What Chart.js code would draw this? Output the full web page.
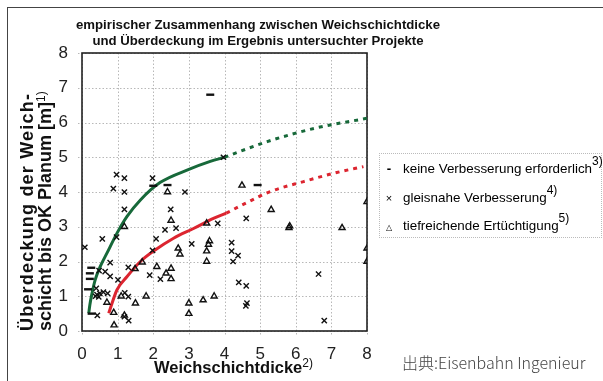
<!DOCTYPE html>
<html>
<head>
<meta charset="utf-8">
<script src="https://cdn.jsdelivr.net/npm/chart.js@4.4.1/dist/chart.umd.min.js"></script>
<style>
  body { margin: 0; background: #fff; }
  #wrap { position: relative; width: 603px; height: 381px; overflow: hidden;
    font-family: "Liberation Sans", Arial, sans-serif; color: #111; }
  #chart { position: absolute; left: 0; top: 0; }
  .frame { position: absolute; left: 7px; top: 7px; width: 620px; height: 400px;
    border-top: 1.5px solid #444; border-left: 1.5px solid #444; }
  .title { position: absolute; left: 58px; top: 17px; width: 400px; text-align: center;
    font-weight: bold; font-size: 13.2px; line-height: 16px; }
  .ytitle { position: absolute; left: 18px; top: 331px; width: 280px;
    transform-origin: 0 0; transform: rotate(-90deg);
    font-weight: bold; font-size: 18px; line-height: 18px; white-space: nowrap; }
  .xtitle { position: absolute; left: 154px; top: 358px; font-weight: bold;
    font-size: 16.5px; white-space: nowrap; }
  sup { font-weight: normal; font-size: 12px; line-height: 0; vertical-align: 6px; }
  .legend { position: absolute; left: 379px; top: 153px; width: 223px; height: 85px;
    box-sizing: border-box; border: 1px dotted #bbb; font-size: 13.4px; color: #000; }
  .legend .row { position: absolute; left: 0; height: 16px; line-height: 16px; white-space: nowrap; }
  .legend .row sup { vertical-align: 8px; }
  .legend .mk { display: inline-block; width: 14px; margin-left: 2px; margin-right: 7px; text-align: center; }
  .source { position: absolute; left: 402px; top: 354px; font-family: "Noto Sans CJK JP", sans-serif;
    font-size: 16px; line-height: 16px; color: #444; font-weight: 300; white-space: nowrap; }
</style>
</head>
<body>
<div id="wrap">
  <canvas id="chart" width="603" height="381"></canvas>
  <div class="frame"></div>
  <div class="title">empirischer Zusammenhang zwischen Weichschichtdicke<br>und Überdeckung im Ergebnis untersuchter Projekte</div>
  <div class="ytitle"><span style="letter-spacing:1.2px">Überdeckung der Weich-</span><br>schicht bis OK Planum [m]<sup>1)</sup></div>
  <div class="xtitle">Weichschichtdicke<sup>2)</sup></div>
  <div class="legend">
    <div class="row" style="top:7px"><span class="mk" style="font-weight:bold">-</span>keine Verbesserung erforderlich<sup>3)</sup></div>
    <div class="row" style="top:36px"><span class="mk" style="font-size:11px">×</span>gleisnahe Verbesserung<sup>4)</sup></div>
    <div class="row" style="top:64px"><span class="mk" style="font-size:8px">△</span>tiefreichende Ertüchtigung<sup>5)</sup></div>
  </div>
  <div class="source">出典:Eisenbahn Ingenieur</div>
</div>
<script>
// keine Verbesserung erforderlich (dash markers)
const dashX = [3.6, 4.93, 2.0, 2.4, 0.26, 0.22, 0.22, 0.17, 0.27];
const dashY = [6.8, 4.2, 4.18, 4.2, 1.82, 1.66, 1.5, 1.2, 0.5];

// gleisnahe Verbesserung (crosses)
const crossX = [0.97, 1.19, 0.88, 1.19, 1.98, 2.89, 3.97, 1.19, 2.49, 2.33, 2.64, 3.81, 4.61,
  0.57, 0.97, 0.08, 2.08, 1.98, 3.08, 4.2, 4.2, 4.38, 4.24, 0.79, 0.48, 0.65, 0.79, 1.01,
  1.3, 1.9, 2.2, 4.4, 4.61, 4.63, 4.6, 0.4, 0.42, 0.5, 0.6, 0.72, 1.2, 1.3, 0.43, 1.19,
  1.31, 6.64, 6.8, 0.38, 0.47];
const crossY = [4.5, 4.4, 4.1, 4.0, 4.4, 4.0, 5.0, 3.5, 3.5, 2.91, 2.96, 3.1, 3.24,
  2.65, 2.7, 2.41, 2.65, 2.32, 2.51, 2.54, 2.3, 2.17, 2.0, 1.97, 1.74, 1.71, 1.57, 1.47,
  1.83, 1.61, 1.49, 1.4, 1.3, 0.8, 0.72, 1.23, 1.05, 1.08, 1.12, 1.08, 1.1, 0.99, 0.45, 0.41,
  0.3, 1.64, 0.3, 1.0, 0.98];

// tiefreichende Ertüchtigung (triangles)
const triX = [2.4, 4.49, 5.31, 2.5, 1.19, 3.5, 5.81, 5.83, 7.3, 3.58, 3.55, 3.5, 3.5, 2.7,
  2.75, 2.1, 2.36, 2.5, 2.5, 1.49, 1.69, 1.8, 1.5, 3.0, 3.0, 3.4, 3.71, 0.89, 0.9, 0.7,
  1.19, 1.1, 8, 8, 8];
const triY = [4.0, 4.19, 3.49, 3.18, 3.0, 3.1, 2.97, 3.02, 2.97, 2.59, 2.49, 2.3, 2.0, 2.38,
  2.21, 1.85, 1.66, 1.8, 1.5, 1.79, 1.98, 1.0, 0.8, 0.8, 0.5, 0.89, 1.0, 0.53, 0.17, 0.82,
  0.45, 1.0, 3.72, 2.38, 2.0];

// trend curves
const greenX = [0.19, 0.22, 0.28, 0.37, 0.51, 0.70, 0.98, 1.26, 1.64, 2.19, 3.0, 3.6, 4.0];
const greenY = [0.51, 0.75, 1.08, 1.47, 1.85, 2.24, 2.81, 3.29, 3.77, 4.27, 4.65, 4.88, 5.0];
const greenExtX = [4.0, 5.2, 6.6, 8.0];
const greenExtY = [5.0, 5.45, 5.85, 6.12];
const redX = [0.75, 0.98, 1.26, 1.64, 2.01, 2.57, 3.13, 3.69, 4.05];
const redY = [0.51, 1.18, 1.56, 2.0, 2.3, 2.67, 2.95, 3.24, 3.39];
const redExtX = [4.05, 4.6, 5.28, 6.22, 7.15, 7.9];
const redExtY = [3.39, 3.68, 4.01, 4.3, 4.56, 4.73];

const xTicks = [0, 1, 2, 3, 4, 5, 6, 7, 8];
const yTicks = [0, 1, 2, 3, 4, 5, 6, 7, 8];

const pts = (xs, ys) => xs.map((x, i) => ({ x: x, y: ys[i] }));
const GREEN = "#17693a";
const RED = "#dc2530";

// dotted grid + solid box around the plot area
const plotFrame = {
  id: "plotFrame",
  beforeDatasetsDraw(chart) {
    const a = chart.chartArea;
    const ctx = chart.ctx;
    const sx = chart.scales.x;
    const sy = chart.scales.y;
    ctx.save();
    ctx.strokeStyle = "#b8b8b8";
    ctx.lineWidth = 1;
    ctx.setLineDash([1.5, 2]);
    ctx.beginPath();
    xTicks.forEach((v) => {
      const px = Math.round(sx.getPixelForValue(v)) + 0.5;
      ctx.moveTo(px, a.top);
      ctx.lineTo(px, a.bottom + 4);
    });
    yTicks.forEach((v) => {
      const py = Math.round(sy.getPixelForValue(v)) + 0.5;
      ctx.moveTo(a.left - 4, py);
      ctx.lineTo(a.right, py);
    });
    ctx.stroke();
    ctx.setLineDash([]);
    ctx.strokeStyle = "#222";
    ctx.lineWidth = 1.6;
    ctx.strokeRect(a.left, a.top, a.right - a.left, a.bottom - a.top);
    ctx.restore();
  },
};

function curve(data, color, dashed) {
  return {
    data: data,
    showLine: true,
    borderColor: color,
    borderWidth: 3,
    borderDash: dashed ? [4, 5] : [],
    pointRadius: 0,
    fill: false,
    cubicInterpolationMode: "monotone",
    order: 5,
  };
}

new Chart(document.getElementById("chart"), {
  type: "scatter",
  data: {
    datasets: [
      {
        data: pts(dashX, dashY),
        pointStyle: "line",
        pointRadius: 4,
        borderColor: "#111",
        borderWidth: 2.4,
        order: 1,
      },
      {
        data: pts(crossX, crossY),
        pointStyle: "crossRot",
        pointRadius: 3.7,
        borderColor: "#111",
        borderWidth: 1.4,
        order: 1,
      },
      {
        data: pts(triX, triY),
        pointStyle: "triangle",
        pointRadius: 3.5,
        borderColor: "#111",
        backgroundColor: "rgba(255,255,255,0)",
        borderWidth: 1.4,
        order: 1,
      },
      curve(pts(greenX, greenY), GREEN, false),
      curve(pts(greenExtX, greenExtY), GREEN, true),
      curve(pts(redX, redY), RED, false),
      curve(pts(redExtX, redExtY), RED, true),
    ],
  },
  options: {
    responsive: false,
    animation: false,
    events: [],
    layout: { padding: { top: 53, right: 236, left: 0, bottom: 0 } },
    plugins: { legend: { display: false }, tooltip: { enabled: false } },
    scales: {
      x: {
        type: "linear",
        min: 0,
        max: 8,
        afterFit: (s) => { s.height = 50; },
        afterBuildTicks: (s) => { s.ticks = xTicks.map((v) => ({ value: v })); },
        ticks: { color: "#222", padding: 13, font: { family: "'Liberation Sans', Arial", size: 17 } },
        grid: { display: false, drawTicks: false },
        border: { display: false },
      },
      y: {
        type: "linear",
        min: 0,
        max: 8,
        afterFit: (s) => { s.width = 82; },
        afterBuildTicks: (s) => { s.ticks = yTicks.map((v) => ({ value: v })); },
        ticks: { color: "#222", padding: 14, font: { family: "'Liberation Sans', Arial", size: 17 } },
        grid: { display: false, drawTicks: false },
        border: { display: false },
      },
    },
  },
  plugins: [plotFrame],
});
</script>
</body>
</html>
